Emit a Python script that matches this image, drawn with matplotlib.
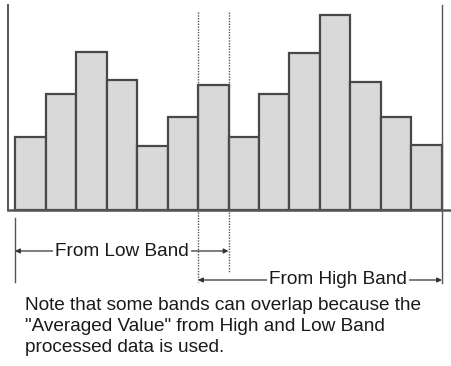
import numpy as np
import matplotlib.pyplot as plt

# bar heights (arbitrary units)
heights = [73, 116, 158, 130, 64, 93, 125, 73, 116, 157, 195, 128, 93, 65]
low_band = (0, 7)    # bar edges covered by low band
high_band = (6, 14)  # bar edges covered by high band
note = ('Note that some bands can overlap because the\n'
        '"Averaged Value" from High and Low Band\n'
        'processed data is used.')

plt.rcParams['font.family'] = ['Liberation Sans', 'DejaVu Sans']

fig = plt.figure(figsize=(4.52, 3.66), dpi=100)
ax = fig.add_axes([0, 0, 1, 1])
ax.axis('off')
ax.set_xlim(-0.492, 14.328)
ax.set_ylim(-156, 210)

x = np.arange(len(heights))
ax.bar(x, heights, width=1.0, align='edge', color='#d9d9d9',
       edgecolor='#484848', linewidth=1.6, zorder=2)

line_c = '#555555'
# axis lines
ax.plot([-0.23, -0.23], [0, 205], color=line_c, lw=1.4)
ax.plot([-0.23, 14.328], [0, 0], color=line_c, lw=1.8, zorder=3)

# band boundary markers
ax.plot([low_band[0]] * 2, [-8, -72], color=line_c, lw=1.0)
ax.plot([low_band[1]] * 2, [198, -62], color=line_c, lw=1.0, ls=(0, (1, 1)), zorder=4)
ax.plot([high_band[0]] * 2, [198, -72], color=line_c, lw=1.0, ls=(0, (1, 1)), zorder=4)
ax.plot([high_band[1]] * 2, [205, -73], color=line_c, lw=1.0, zorder=4)

arrow = dict(arrowstyle='<|-|>', color='#333333', lw=0.9, mutation_scale=7,
             shrinkA=0, shrinkB=0)
ax.annotate('', xy=(low_band[0], -41), xytext=(low_band[1], -41), arrowprops=arrow)
ax.annotate('', xy=(high_band[0], -70), xytext=(high_band[1], -70), arrowprops=arrow)
bbox = dict(facecolor='white', edgecolor='none', pad=1.5)
ax.text(3.52, -41, 'From Low Band', ha='center', va='center', fontsize=13.7,
        color='#1a1a1a', bbox=bbox)
ax.text(10.59, -70, 'From High Band', ha='center', va='center', fontsize=13.7,
        color='#1a1a1a', bbox=bbox)

ax.text(0.33, -87, note, ha='left', va='top', fontsize=13.7, color='#1a1a1a',
        linespacing=1.32)

fig.savefig('out.png', dpi=100)
